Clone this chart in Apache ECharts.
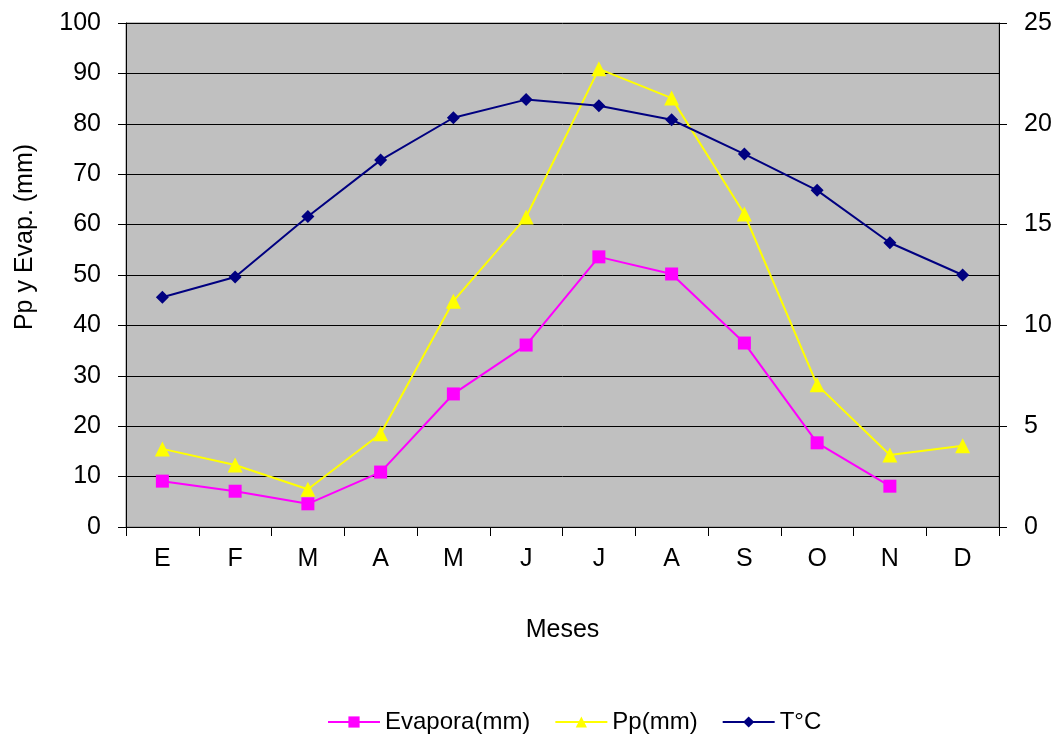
<!DOCTYPE html>
<html><head><meta charset="utf-8">
<script src="https://cdn.jsdelivr.net/npm/echarts@6/dist/echarts.min.js"></script>
<style>html,body{margin:0;padding:0;background:#fff}#c{width:1062px;height:738px}</style>
</head><body><div id="c"></div>
<script>
const months = ['E','F','M','A','M','J','J','A','S','O','N','D'];
const evapora = [9.1, 7.1, 4.6, 10.9, 26.4, 36.1, 53.6, 50.2, 36.5, 16.7, 8.1, null];
const pp = [15.5, 12.3, 7.5, 18.5, 44.8, 61.5, 90.9, 85.1, 62.1, 28.2, 14.3, 16.1];
const temp = [11.4, 12.4, 15.4, 18.2, 20.3, 21.2, 20.9, 20.2, 18.5, 16.7, 14.1, 12.5];

const font = 'Liberation Sans, Arial, sans-serif';
const chart = echarts.init(document.getElementById('c'));
chart.setOption({
  animation: false,
  textStyle: {fontFamily: font},
  grid: {left: 126, right: 63, top: 23, bottom: 211, show: true, backgroundColor: '#c0c0c0', borderColor: '#808080', borderWidth: 1},
  legend: {
    top: 705, left: 322, itemWidth: 52, itemHeight: 14, itemGap: 24,
    textStyle: {fontFamily: font, fontSize: 24, color: '#000'},
    data: ['Evapora(mm)', 'Pp(mm)', 'T°C']
  },
  xAxis: {
    type: 'category', data: months, boundaryGap: true,
    name: 'Meses', nameLocation: 'middle', nameGap: 91,
    nameTextStyle: {fontFamily: font, fontSize: 25, color: '#000'},
    axisLine: {lineStyle: {color: '#000', width: 1}},
    axisTick: {show: true, length: 9, lineStyle: {color: '#000'}, alignWithLabel: false},
    axisLabel: {fontFamily: font, fontSize: 25, color: '#000', margin: 20}
  },
  yAxis: [
    {
      type: 'value', min: 0, max: 100, interval: 10,
      name: 'Pp y Evap. (mm)', nameLocation: 'middle', nameGap: 88, nameRotate: 90,
      nameTextStyle: {fontFamily: font, fontSize: 25, color: '#000', padding: [0, 0, 0, 76]},
      axisLine: {show: true, lineStyle: {color: '#000'}},
      axisTick: {show: true, length: 8, lineStyle: {color: '#000'}},
      axisLabel: {fontFamily: font, fontSize: 25, color: '#000', margin: 25},
      splitLine: {show: true, lineStyle: {color: '#000', width: 1}}
    },
    {
      type: 'value', min: 0, max: 25, interval: 5, position: 'right',
      axisLine: {show: true, lineStyle: {color: '#000'}},
      axisTick: {show: true, length: 8, lineStyle: {color: '#000'}},
      axisLabel: {fontFamily: font, fontSize: 25, color: '#000', margin: 25},
      splitLine: {show: false}
    }
  ],
  series: [
    {name: 'Evapora(mm)', type: 'line', data: evapora, yAxisIndex: 0, symbol: 'rect', symbolSize: 13,
      lineStyle: {color: '#ff00ff', width: 2}, itemStyle: {color: '#ff00ff'}, connectNulls: false},
    {name: 'Pp(mm)', type: 'line', data: pp, yAxisIndex: 0, symbol: 'triangle', symbolSize: 15,
      lineStyle: {color: '#ffff00', width: 2}, itemStyle: {color: '#ffff00'}},
    {name: 'T°C', type: 'line', data: temp, yAxisIndex: 1, symbol: 'diamond', symbolSize: 13,
      lineStyle: {color: '#000080', width: 2}, itemStyle: {color: '#000080'}}
  ]
});
</script></body></html>
